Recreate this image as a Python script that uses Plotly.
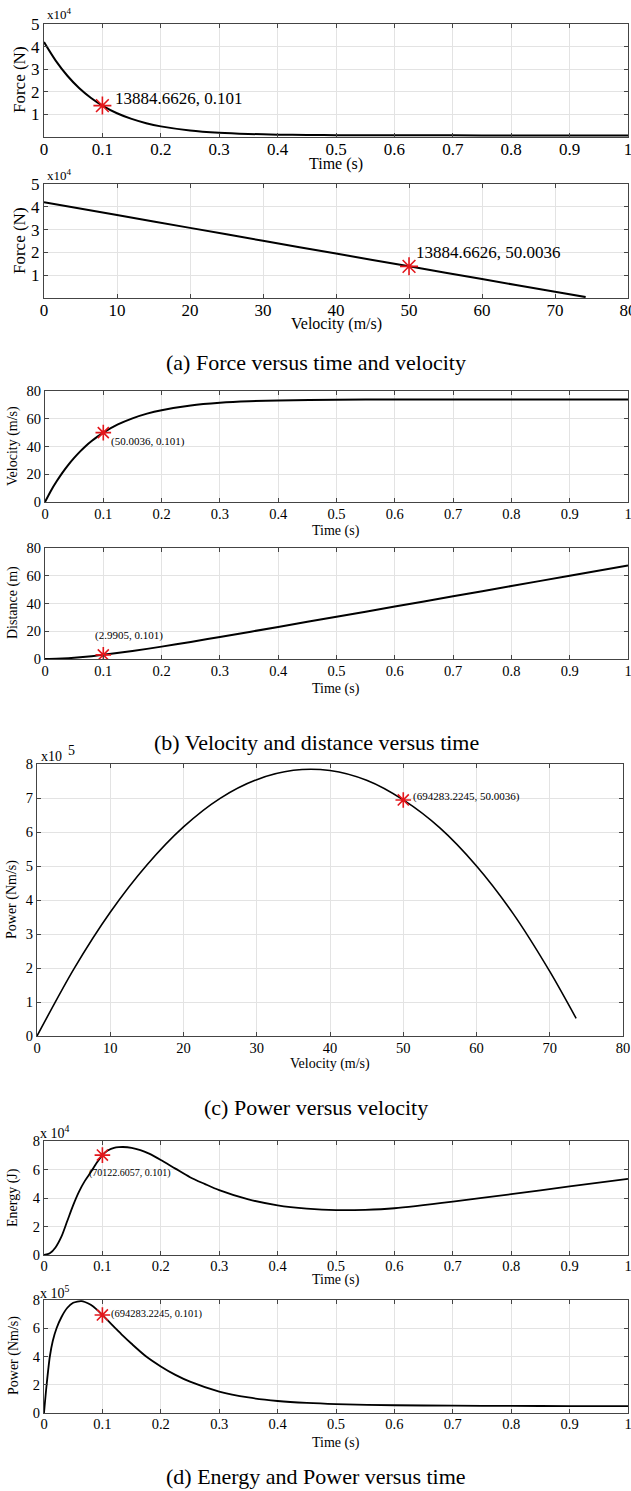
import plotly.graph_objects as go

W, H = 631, 1491

# (a) force versus time
t_force = [0, 0.02, 0.04, 0.06, 0.08, 0.1, 0.125, 0.15, 0.175, 0.2, 0.25, 0.3,
           0.35, 0.4, 0.45, 0.5, 0.6, 0.7, 0.8, 0.9, 1.0]
force_t = [42000, 33800, 27100, 21700, 17400, 13885, 10500, 8000, 6100, 4700, 2900,
           1900, 1350, 1050, 900, 820, 750, 720, 710, 700, 700]

# (a) force versus velocity
v_force = [0, 10, 20, 30, 40, 50.0036, 60, 70, 74.2]
force_v = [42000, 36400, 30750, 25100, 19500, 13885, 8300, 2700, 400]

# (b) velocity versus time
t_vel = [0, 0.01, 0.02, 0.03, 0.04, 0.05, 0.06, 0.07, 0.08, 0.09, 0.1, 0.125, 0.15,
         0.175, 0.2, 0.25, 0.3, 0.35, 0.4, 0.5, 0.6, 0.7, 0.8, 0.9, 1.0]
velocity = [0, 8.0, 14.9, 21.2, 26.8, 31.8, 36.3, 40.4, 43.9, 47.1, 50.0036, 55.9, 60.3,
            63.7, 66.2, 69.6, 71.5, 72.6, 73.2, 73.7, 73.85, 73.9, 73.93, 73.95, 73.95]

# (b) distance versus time
t_dist = [0, 0.02, 0.04, 0.06, 0.08, 0.1, 0.15, 0.2, 0.25, 0.3, 0.4, 0.5, 0.6, 0.7,
          0.8, 0.9, 1.0]
distance = [0, 0.15, 0.58, 1.21, 2.02, 2.9905, 5.74, 8.92, 12.3, 15.85, 23.1, 30.45,
            37.8, 45.2, 52.6, 60.0, 67.4]

# (c) power versus velocity
v_pow = [0, 5, 10, 15, 20, 25, 30, 35, 40, 45, 50.0036, 55, 60, 65, 70, 73.6]
power_v = [0, 196000, 364000, 503000, 615000, 699000, 754000, 781500, 780800,
           752000, 694283, 612000, 500000, 360000, 190000, 52000]

# (d) energy versus time
t_energy = [0, 0.01, 0.02, 0.03, 0.04, 0.05, 0.06, 0.07, 0.08, 0.09, 0.1, 0.105, 0.11,
            0.12, 0.128, 0.135, 0.15, 0.165, 0.18, 0.2, 0.225, 0.25, 0.275, 0.3, 0.35,
            0.4, 0.45, 0.5, 0.55, 0.6, 0.7, 0.8, 0.9, 1.0]
energy = [0, 1200, 5500, 13000, 24000, 35000, 44500, 52000, 58000, 64500, 70122, 72100,
          73500, 75100, 75650, 75800, 75250, 73650, 71100, 66700, 60600, 54600, 49900,
          45500, 39000, 34900, 32600, 31500, 31700, 32800, 37400, 42700, 48100, 53400]

# (d) power versus time
t_power = [0, 0.0045, 0.01, 0.015, 0.0215, 0.03, 0.04, 0.05, 0.057, 0.064, 0.07, 0.08,
           0.09, 0.1, 0.11, 0.12, 0.135, 0.15, 0.175, 0.2, 0.225, 0.25, 0.3, 0.35, 0.4,
           0.45, 0.5, 0.6, 0.7, 0.8, 0.9, 1.0]
power_t = [0, 200000, 400000, 510000, 600000, 680000, 745000, 780000, 789000, 792000,
           786000, 766000, 734000, 694283, 652000, 610000, 548000, 490000, 400000,
           330000, 270000, 222000, 152000, 110000, 85000, 71000, 63000, 55000, 52000,
           50000, 49000, 48000]

# marked points (x, y, label)
marks = [
    (0.1, 13885, "13884.6626, 0.101"),
    (50.0036, 13885, "13884.6626, 50.0036"),
    (0.1, 50.0036, "(50.0036, 0.101)"),
    (0.1, 2.9905, "(2.9905, 0.101)"),
    (50.0036, 694283, "(694283.2245, 50.0036)"),
    (0.1, 70122, "(70122.6057, 0.101)"),
    (0.1, 694283, "(694283.2245, 0.101)"),
]

time_ticks = [0, 0.1, 0.2, 0.3, 0.4, 0.5, 0.6, 0.7, 0.8, 0.9, 1]
time_text = ["0", "0.1", "0.2", "0.3", "0.4", "0.5", "0.6", "0.7", "0.8", "0.9", "1"]
vel_ticks = [0, 10, 20, 30, 40, 50, 60, 70, 80]

FONT = "Liberation Serif"
RED = "#e3161b"


def px(x):
    return x / W


def py(y):
    return 1 - y / H


# panel boxes in pixels: left, right, top, bottom
boxes = [
    (44, 628, 24, 137),
    (44, 628, 184, 298),
    (45, 628, 391, 502),
    (45, 628, 548, 659),
    (37, 623, 764, 1036),
    (44, 628, 1141, 1255),
    (44, 628, 1300, 1413),
]

series = [
    (t_force, force_t), (v_force, force_v), (t_vel, velocity), (t_dist, distance),
    (v_pow, power_v), (t_energy, energy), (t_power, power_t),
]
line_w = [2, 2, 2, 2, 1.6, 1.8, 1.8]
x_standoff = [-3, -3, -1, -1, -1, -2, -2]

fig = go.Figure()
for i, (xs, ys) in enumerate(series):
    sfx = "" if i == 0 else str(i + 1)
    fig.add_trace(go.Scatter(x=xs, y=ys, mode="lines", xaxis="x" + sfx, yaxis="y" + sfx,
                             line=dict(color="black", width=line_w[i], shape="spline",
                                       smoothing=0.8),
                             showlegend=False, hoverinfo="skip"))
    mx, my, _ = marks[i]
    fig.add_trace(go.Scatter(x=[mx], y=[my], mode="markers", xaxis="x" + sfx,
                             yaxis="y" + sfx, showlegend=False,
                             marker=dict(symbol="asterisk-open", color=RED,
                                         size=15 if i < 2 else 13,
                                         line=dict(color=RED, width=1.6))))

# y ranges / ticks for each panel
y_setup = [
    ([0, 50000], [10000, 20000, 30000, 40000, 50000], ["1", "2", "3", "4", "5"], 17),
    ([0, 50000], [10000, 20000, 30000, 40000, 50000], ["1", "2", "3", "4", "5"], 17),
    ([0, 80], [0, 20, 40, 60, 80], ["0", "20", "40", "60", "80"], 14.5),
    ([0, 80], [0, 20, 40, 60, 80], ["0", "20", "40", "60", "80"], 14.5),
    ([0, 800000], [i * 100000 for i in range(9)], [str(i) for i in range(9)], 14.5),
    ([0, 80000], [0, 20000, 40000, 60000, 80000], ["0", "2", "4", "6", "8"], 14.5),
    ([0, 800000], [0, 200000, 400000, 600000, 800000], ["0", "2", "4", "6", "8"], 14.5),
]
x_is_vel = [False, True, False, False, True, False, False]

axis_common = dict(showline=True, linecolor="#444", linewidth=1, mirror="ticks",
                   ticks="inside", ticklen=4, tickcolor="#444", showgrid=True,
                   gridcolor="#e3e3e3", gridwidth=1, zeroline=False, fixedrange=True,
                   automargin=False, ticklabeloverflow="allow")

layout = dict(width=W, height=H, margin=dict(l=0, r=0, t=0, b=0, pad=0),
              paper_bgcolor="white", plot_bgcolor="white",
              font=dict(family=FONT, color="black"))

for i, (l, r, t, b) in enumerate(boxes):
    sfx = "" if i == 0 else str(i + 1)
    yr, yv, yt, fs = y_setup[i]
    if x_is_vel[i]:
        xr, xv, xt = [0, 80], vel_ticks, [str(v) for v in vel_ticks]
    else:
        xr, xv, xt = [0, 1], time_ticks, time_text
    layout["xaxis" + sfx] = dict(axis_common, domain=[px(l), px(r)], range=xr,
                                 tickvals=xv, ticktext=xt, anchor="y" + sfx,
                                 ticklabelstandoff=x_standoff[i],
                                 tickfont=dict(size=fs, family=FONT))
    layout["yaxis" + sfx] = dict(axis_common, domain=[py(b), py(t)], range=yr,
                                 tickvals=yv, ticktext=yt, anchor="x" + sfx,
                                 tickfont=dict(size=fs, family=FONT))

fig.update_layout(**layout)


def note(text, x, y, size, angle=0, xanchor="center"):
    fig.add_annotation(text=text, x=px(x), y=py(y), xref="paper", yref="paper",
                       showarrow=False, textangle=angle, xanchor=xanchor,
                       yanchor="middle", font=dict(family=FONT, size=size, color="black"))


# axis titles
note("Force (N)", 20, 80, 17, -90)
note("Time (s)", 336, 164, 16)
note("Force (N)", 20, 241, 17, -90)
note("Velocity (m/s)", 336, 324, 16)
note("Velocity (m/s)", 13, 446, 14, -90)
note("Time (s)", 336, 531, 14)
note("Distance (m)", 13, 603, 14, -90)
note("Time (s)", 336, 689, 14)
note("Power (Nm/s)", 12, 900, 14, -90)
note("Velocity (m/s)", 330, 1064, 14)
note("Energy (J)", 13, 1198, 14, -90)
note("Time (s)", 336, 1280, 14)
note("Power (Nm/s)", 14, 1356, 14, -90)
note("Time (s)", 336, 1443, 14)

# exponent labels
note("x10<sup>4</sup>", 45, 14, 13, xanchor="left")
note("x10<sup>4</sup>", 45, 175, 13, xanchor="left")
note("x10", 39, 756, 14, xanchor="left")
note("5", 66, 750, 14, xanchor="left")
note("x 10<sup>4</sup>", 38, 1132, 14, xanchor="left")
note("x 10<sup>5</sup>", 38, 1292, 14, xanchor="left")

# marker labels
note(marks[0][2], 113, 98, 17, xanchor="left")
note(marks[1][2], 414, 252, 17, xanchor="left")
note(marks[2][2], 109, 441, 11, xanchor="left")
note(marks[3][2], 129, 635, 11)
note(marks[4][2], 411, 796, 11, xanchor="left")
note(marks[5][2], 130, 1173, 10)
note(marks[6][2], 109, 1314, 10.5, xanchor="left")

# captions
note("(a) Force versus time and velocity", 316, 362, 22)
note("(b) Velocity and distance versus time", 316, 742, 22)
note("(c) Power versus velocity", 316, 1107, 22)
note("(d) Energy and Power versus time", 316, 1476, 22)

# drop the default page margin so the figure sits at the window's corner
fig.write_html("out.html", config={"displayModeBar": False},
               post_script="document.body.style.margin='0';"
                           "document.body.style.overflow='hidden';")
